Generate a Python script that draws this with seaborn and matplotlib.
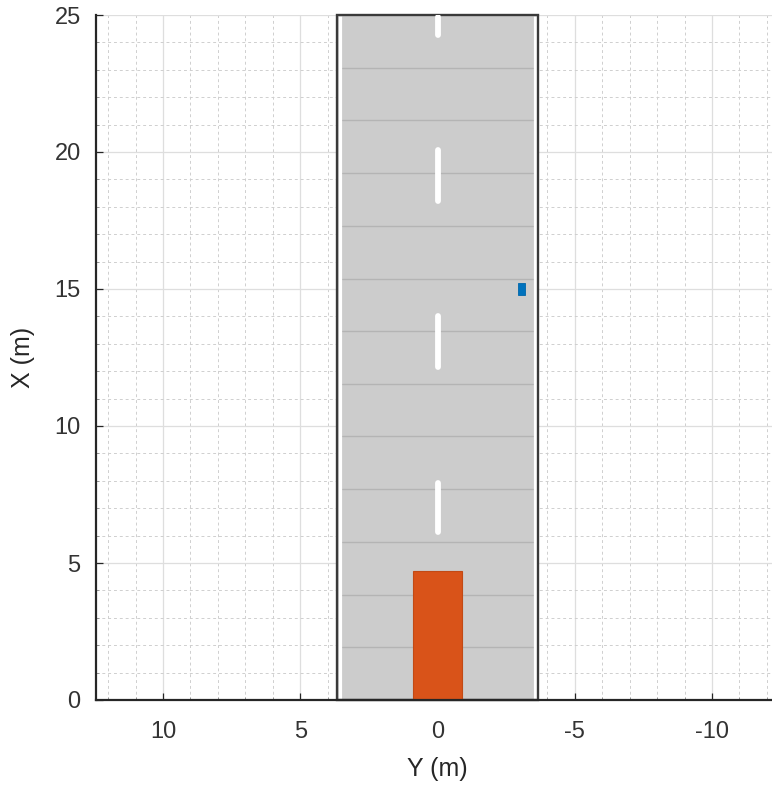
import matplotlib
matplotlib.use("Agg")
import matplotlib.pyplot as plt
from matplotlib.patches import Rectangle
from matplotlib.ticker import MultipleLocator
import numpy as np
import pandas as pd
import seaborn as sns

# scene data (metres); horizontal axis is Y (reversed), vertical is X
y_ticks = [10, 5, 0, -5, -10]
x_ticks = [0, 5, 10, 15, 20, 25]
road_len = 25.0
road_half_w = 3.67
edge_mark_off = 3.55           # solid edge markings, just inside the border
tile_lines = [1.92, 3.85, 5.77, 7.69, 9.62, 11.54, 13.46, 15.38, 17.31, 19.23, 21.15, 23.08]
dash_start = [6.05, 12.1, 18.15, 24.2]
dash_end = [8.0, 14.1, 20.15, 25.0]
ego_x = [0.0, 4.7]             # rear, front
ego_y = [0.9, -0.9]
ped_x = [14.77, 15.22]
ped_y = [-2.93, -3.19]

sns.set_theme(style="whitegrid")
plt.rcParams["font.family"] = ["Liberation Sans", "DejaVu Sans"]

fig = plt.figure(figsize=(7.72, 7.95), dpi=100)
ax = fig.add_axes([96 / 772, 95 / 795, 683 / 772, 685 / 795])
ax.set_facecolor("white")

# road surface
ax.add_patch(Rectangle((-road_half_w, 0), 2 * road_half_w, road_len,
                       facecolor="#cccccc", edgecolor="none", zorder=2))
# tiling lines across the road
for xv in tile_lines:
    ax.plot([edge_mark_off - 0.08, -edge_mark_off + 0.08], [xv, xv],
            color="#b4b4b4", lw=1.0, zorder=3)
# solid edge markings
for s in (1, -1):
    ax.plot([s * edge_mark_off, s * edge_mark_off], [0.03, road_len - 0.03],
            color="white", lw=2.3, zorder=3, solid_capstyle="butt")
# road border on top
ax.add_patch(Rectangle((-road_half_w, 0), 2 * road_half_w, road_len,
                       facecolor="none", edgecolor="#3a3a3a", lw=1.7, zorder=4,
                       clip_on=False))

# dashed centre marking
dash = pd.DataFrame({
    "X": np.ravel(np.column_stack([np.array(dash_start) + 0.07, np.array(dash_end) - 0.07])),
    "Y": 0.0,
    "seg": np.repeat(np.arange(len(dash_start)), 2),
})
sns.lineplot(data=dash, x="Y", y="X", units="seg", estimator=None, sort=False,
             color="white", lw=4.2, ax=ax, zorder=4, legend=False)
for ln in ax.lines[-len(dash_start):]:
    ln.set_solid_capstyle("round")

# ego car
ax.add_patch(Rectangle((ego_y[1], ego_x[0]), ego_y[0] - ego_y[1], ego_x[1] - ego_x[0],
                       facecolor="#D95319", edgecolor="#c24a15", lw=0.8, zorder=5))
# pedestrian
ax.add_patch(Rectangle((ped_y[1], ped_x[0]), ped_y[0] - ped_y[1], ped_x[1] - ped_x[0],
                       facecolor="#0072BD", edgecolor="#0066aa", lw=0.6, zorder=5))

ax.set_xlim(12.44, -12.44)
ax.set_ylim(0, 25)
ax.set_xticks(y_ticks)
ax.set_yticks(x_ticks)
ax.set_xticklabels([str(v) for v in y_ticks])
ax.set_yticklabels([str(v) for v in x_ticks])
ax.xaxis.set_minor_locator(MultipleLocator(1))
ax.yaxis.set_minor_locator(MultipleLocator(1))

ax.grid(which="major", color="#dedede", lw=0.9, ls="-", zorder=0)
ax.grid(which="minor", color="#cfcfcf", lw=0.7, ls=(0, (3, 3)), zorder=0)
ax.set_axisbelow(True)

for side in ("top", "right"):
    ax.spines[side].set_visible(False)
for side in ("left", "bottom"):
    ax.spines[side].set_color("#262626")
    ax.spines[side].set_linewidth(1.6)
    ax.spines[side].set_zorder(6)

ax.tick_params(which="major", direction="in", length=5, width=0.9, color="#262626",
               labelsize=17, labelcolor="#333333", bottom=True, left=True)
ax.tick_params(axis="x", which="major", pad=15)
ax.tick_params(axis="y", which="major", pad=11)
ax.tick_params(which="minor", direction="in", length=2.5, width=0.6, color="#8a8a8a",
               bottom=True, left=True)

ax.set_xlabel("Y (m)", fontsize=18, color="#262626", labelpad=10)
ax.set_ylabel("X (m)", fontsize=18, color="#262626", labelpad=14)

fig.savefig("out.png", dpi=100)
